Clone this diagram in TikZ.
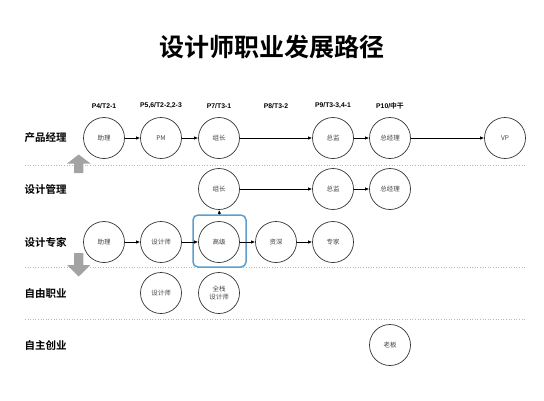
\documentclass[tikz,border=0pt]{standalone}
\usepackage{fontspec}
\setmainfont{Noto Sans CJK SC}[BoldFont={Noto Sans CJK SC Bold}]
\newfontfamily\latinfont{Liberation Sans}
\newfontfamily\cjkfont{Noto Sans CJK SC}[BoldFont={Noto Sans CJK SC Bold}]
\usetikzlibrary{arrows.meta}

\definecolor{ringgray}{HTML}{333333}
\definecolor{textgray}{HTML}{444444}
\definecolor{blockgray}{HTML}{A3A3A3}
\definecolor{rowline}{HTML}{B8B8B8}
\definecolor{pickblue}{HTML}{5A9FD0}

\begin{document}
\begin{tikzpicture}[x=1pt, y=-1pt,
	role/.style={circle, draw=ringgray, line width=0.7pt, minimum size=41pt, inner sep=0pt,
		font=\fontsize{6.5}{7.5}\selectfont, text=textgray, align=center},
	rowtitle/.style={anchor=west, font=\fontsize{10.5}{12}\selectfont\bfseries},
	level/.style={font=\latinfont\fontsize{6.8}{8}\selectfont\bfseries},
	go/.style={-{Latex[length=4pt, width=3.5pt]}, line width=0.9pt},
	divider/.style={rowline, dotted, line width=0.6pt}]

	\useasboundingbox (0,0) rectangle (544,400);

	% title
	\node [font=\fontsize{25}{28}\selectfont\bfseries] (title) at (272, 47) {设计师职业发展路径};

	% levels
	\node [level] (lvA) at (104, 106) {P4/T2-1};
	\node [level] (lvB) at (161, 106) {P5,6/T2-2,2-3};
	\node [level] (lvC) at (219, 106) {P7/T3-1};
	\node [level] (lvD) at (276, 106) {P8/T3-2};
	\node [level] (lvE) at (333, 106) {P9/T3-3,4-1};
	\node [level] (lvF) at (390, 106) {P10/{\cjkfont\bfseries 中干}};

	% row titles
	\node [rowtitle] (rowPM) at (21, 138) {产品经理};
	\node [rowtitle] (rowMgr) at (21, 189) {设计管理};
	\node [rowtitle] (rowExp) at (21, 242) {设计专家};
	\node [rowtitle] (rowFree) at (21, 293) {自由职业};
	\node [rowtitle] (rowOwn) at (21, 345) {自主创业};

	% dividers
	\draw [divider] (25, 165) -- (525, 165);
	\draw [divider] (25, 267) -- (525, 267);
	\draw [divider] (25, 319) -- (525, 319);

	% up / down block arrows
	\fill [blockgray] (74, 173) -- (74, 163.5) -- (67, 163.5) -- (78.7, 154.5) -- (90.5, 163.5) -- (83.4, 163.5) -- (83.4, 173) -- cycle;
	\fill [blockgray] (74, 253) -- (74, 265) -- (67, 265) -- (78.7, 276.5) -- (90.5, 265) -- (83.4, 265) -- (83.4, 253) -- cycle;

	% product manager track
	\node [role] (pmA) at (104, 138) {助理};
	\node [role] (pmB) at (161, 138) {PM};
	\node [role] (pmC) at (219, 138) {组长};
	\node [role] (pmE) at (333, 138) {总监};
	\node [role] (pmF) at (390, 138) {总经理};
	\node [role] (pmG) at (505, 138) {VP};
	\draw [go] (pmA) -- (pmB);
	\draw [go] (pmB) -- (pmC);
	\draw [go] (pmC) -- (pmE);
	\draw [go] (pmE) -- (pmF);
	\draw [go] (pmF) -- (pmG);

	% management track
	\node [role] (mgC) at (219, 189) {组长};
	\node [role] (mgE) at (333, 189) {总监};
	\node [role] (mgF) at (390, 189) {总经理};
	\draw [go] (mgC) -- (mgE);
	\draw [go] (mgE) -- (mgF);

	% expert track
	\node [role] (exA) at (104, 242) {助理};
	\node [role] (exB) at (161, 242) {设计师};
	\node [role] (exC) at (219, 242) {高级};
	\node [role] (exD) at (276, 242) {资深};
	\node [role] (exE) at (333, 242) {专家};
	\node [draw=pickblue, line width=1.5pt, rounded corners=5pt, minimum width=53pt, minimum height=52pt] (pick) at (219.5, 241) {};
	\draw [go] (exA) -- (exB);
	\draw [go] (exB) -- (exC);
	\draw [go] (exC) -- (exD);
	\draw [go] (exD) -- (exE);
	\draw [go] (pick.north) -- (mgC.south);

	% freelance
	\node [role] (frB) at (161, 293) {设计师};
	\node [role] (frC) at (219, 293) {全栈\\设计师};

	% own business
	\node [role] (owF) at (390, 345) {老板};
\end{tikzpicture}
\end{document}
